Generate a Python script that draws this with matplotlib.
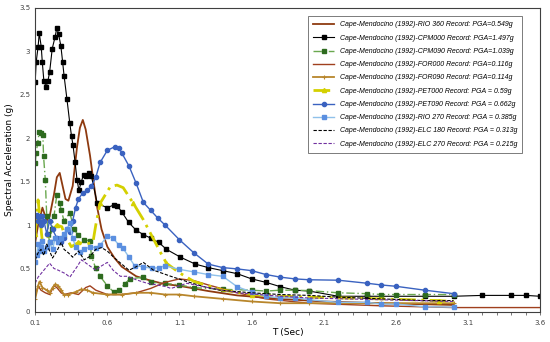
import numpy as np
import matplotlib
matplotlib.use("Agg")
import matplotlib.pyplot as plt
from matplotlib.ticker import MultipleLocator

# RIO 360
t_rio360 = [0.10, 0.12, 0.15, 0.18, 0.20, 0.23, 0.25, 0.27, 0.29, 0.31, 0.33, 0.36, 0.39,
            0.41, 0.43, 0.45, 0.48, 0.50, 0.53, 0.56, 0.60, 0.65, 0.70, 0.80, 0.90, 1.00,
            1.10, 1.30, 1.50, 1.80, 2.10, 2.50, 3.00]
g_rio360 = [0.80, 1.00, 1.20, 1.05, 1.10, 1.35, 1.55, 1.60, 1.45, 1.30, 1.28, 1.45, 1.90,
            2.12, 2.21, 2.10, 1.80, 1.55, 1.20, 0.95, 0.75, 0.62, 0.52, 0.41, 0.36, 0.32,
            0.30, 0.24, 0.19, 0.15, 0.12, 0.10, 0.08]

# CPM000
t_cpm000 = [0.100, 0.107, 0.120, 0.128, 0.142, 0.149, 0.160, 0.176, 0.188, 0.200, 0.218,
            0.237, 0.250, 0.262, 0.278, 0.290, 0.300, 0.320, 0.340, 0.352, 0.362, 0.376,
            0.390, 0.403, 0.420, 0.435, 0.455, 0.473, 0.490, 0.530, 0.598, 0.644, 0.670,
            0.700, 0.748, 0.800, 0.850, 0.900, 0.956, 1.010, 1.107, 1.210, 1.300, 1.400,
            1.500, 1.600, 1.700, 1.800, 1.900, 2.000, 2.200, 2.400, 2.800, 3.000, 3.200,
            3.400, 3.500, 3.600]
g_cpm000 = [2.65, 2.88, 3.05, 3.21, 3.05, 2.88, 2.66, 2.59, 2.66, 2.76, 3.03,
            3.16, 3.27, 3.20, 3.06, 2.88, 2.72, 2.45, 2.17, 2.02, 1.92, 1.73,
            1.52, 1.40, 1.50, 1.58, 1.56, 1.60, 1.56, 1.25, 1.20, 1.23, 1.22,
            1.15, 1.03, 0.94, 0.89, 0.85, 0.80, 0.72, 0.63, 0.55, 0.51, 0.475,
            0.44, 0.38, 0.34, 0.29, 0.25, 0.24, 0.18, 0.18, 0.18, 0.18, 0.19,
            0.19, 0.19, 0.18]

# CPM090
t_cpm090 = [0.100, 0.107, 0.116, 0.128, 0.140, 0.153, 0.158, 0.170, 0.180, 0.190, 0.200,
            0.215, 0.230, 0.250, 0.270, 0.280, 0.300, 0.340, 0.370, 0.400, 0.435, 0.480,
            0.490, 0.520, 0.550, 0.600, 0.644, 0.680, 0.720, 0.755, 0.850, 0.900, 0.998,
            1.100, 1.200, 1.400, 1.600, 1.700, 1.800, 1.900, 2.000, 2.200, 2.400, 2.500,
            2.600, 2.800, 3.000]
g_cpm090 = [1.71, 1.83, 1.94, 2.07, 2.06, 2.04, 1.79, 1.52, 1.10, 0.90, 0.80,
            0.95, 1.10, 1.35, 1.25, 1.17, 1.05, 1.14, 0.95, 0.88, 0.83, 0.82,
            0.64, 0.50, 0.41, 0.30, 0.23, 0.25, 0.32, 0.38, 0.40, 0.34, 0.33,
            0.31, 0.28, 0.26, 0.25, 0.24, 0.25, 0.25, 0.245, 0.22, 0.21, 0.20,
            0.20, 0.20, 0.20]

# FOR000
t_for000 = [0.10, 0.12, 0.14, 0.17, 0.20, 0.23, 0.25, 0.28, 0.30, 0.35, 0.40, 0.45, 0.48,
            0.52, 0.60, 0.70, 0.80, 0.90, 1.00, 1.10, 1.20, 1.30, 1.50, 1.70, 2.00, 2.50,
            3.00, 3.60]
g_for000 = [0.18, 0.30, 0.25, 0.22, 0.20, 0.30, 0.28, 0.22, 0.20, 0.22, 0.20, 0.28, 0.30,
            0.25, 0.20, 0.20, 0.22, 0.27, 0.34, 0.38, 0.36, 0.31, 0.22, 0.15, 0.10, 0.07,
            0.05, 0.05]

# FOR090
t_for090 = [0.10, 0.12, 0.13, 0.15, 0.18, 0.20, 0.22, 0.24, 0.26, 0.28, 0.30, 0.33, 0.38,
            0.42, 0.46, 0.50, 0.60, 0.70, 0.80, 0.90, 1.00, 1.10, 1.20, 1.40, 1.60, 1.80,
            2.00, 2.50, 3.00]
g_for090 = [0.15, 0.30, 0.35, 0.28, 0.25, 0.22, 0.28, 0.32, 0.30, 0.25, 0.20, 0.20, 0.23,
            0.26, 0.25, 0.22, 0.20, 0.20, 0.22, 0.22, 0.20, 0.20, 0.18, 0.15, 0.12, 0.10,
            0.10, 0.10, 0.10]

# PET000
t_pet000 = [0.10, 0.12, 0.15, 0.20, 0.25, 0.285, 0.30, 0.35, 0.40, 0.45, 0.50, 0.52, 0.55,
            0.62, 0.667, 0.71, 0.78, 0.85, 0.91, 0.97, 1.01, 1.10, 1.20, 1.40, 1.60, 1.80,
            2.00, 2.50, 2.90, 3.00]
g_pet000 = [0.90, 1.29, 0.80, 0.90, 1.00, 0.98, 0.90, 0.75, 0.80, 0.78, 0.80, 1.00, 1.25,
            1.44, 1.46, 1.43, 1.25, 1.06, 0.87, 0.68, 0.56, 0.45, 0.35, 0.25, 0.20, 0.18,
            0.17, 0.15, 0.13, 0.12]

# PET090
t_pet090 = [0.10, 0.11, 0.12, 0.13, 0.14, 0.15, 0.16, 0.18, 0.20, 0.22, 0.25, 0.28, 0.30,
            0.32, 0.34, 0.36, 0.38, 0.40, 0.43, 0.46, 0.49, 0.52, 0.55, 0.60, 0.65, 0.68,
            0.70, 0.75, 0.80, 0.85, 0.90, 0.95, 1.00, 1.10, 1.20, 1.30, 1.40, 1.50, 1.60,
            1.70, 1.80, 1.90, 2.00, 2.20, 2.40, 2.50, 2.60, 2.80, 3.00]
g_pet090 = [1.10, 1.12, 1.05, 1.10, 1.00, 1.10, 1.05, 0.90, 1.05, 0.95, 0.85, 0.80, 0.85,
            0.95, 0.92, 1.05, 1.20, 1.30, 1.37, 1.40, 1.45, 1.55, 1.72, 1.86, 1.90, 1.89,
            1.83, 1.68, 1.48, 1.26, 1.17, 1.08, 1.00, 0.83, 0.68, 0.55, 0.51, 0.495, 0.475,
            0.43, 0.40, 0.38, 0.37, 0.365, 0.33, 0.31, 0.295, 0.25, 0.21]

# RIO 270
t_rio270 = [0.10, 0.11, 0.12, 0.13, 0.14, 0.15, 0.16, 0.18, 0.20, 0.22, 0.24, 0.26, 0.28,
            0.30, 0.32, 0.34, 0.36, 0.38, 0.41, 0.44, 0.48, 0.52, 0.55, 0.60, 0.64, 0.68,
            0.71, 0.75, 0.79, 0.85, 0.91, 0.956, 1.00, 1.10, 1.20, 1.30, 1.40, 1.50, 1.60,
            1.70, 1.80, 1.90, 2.00, 2.20, 2.40, 2.50, 2.60, 2.80, 3.00]
g_rio270 = [0.58, 0.65, 0.78, 0.70, 0.75, 0.82, 0.70, 0.75, 0.80, 0.72, 0.85, 0.80, 0.85,
            0.90, 0.95, 1.02, 0.85, 0.75, 0.69, 0.72, 0.75, 0.74, 0.77, 0.87, 0.85, 0.77,
            0.73, 0.63, 0.53, 0.52, 0.50, 0.51, 0.53, 0.49, 0.46, 0.43, 0.41, 0.29, 0.23,
            0.18, 0.16, 0.165, 0.14, 0.11, 0.11, 0.09, 0.09, 0.06, 0.055]

# ELC 180
t_elc180 = [0.10, 0.12, 0.14, 0.16, 0.18, 0.20, 0.22, 0.25, 0.28, 0.30, 0.33, 0.36, 0.40,
            0.44, 0.48, 0.52, 0.56, 0.60, 0.65, 0.70, 0.75, 0.80, 0.85, 0.92, 1.04, 1.15,
            1.27, 1.38, 1.60, 1.80, 2.00, 2.20, 2.50, 2.80, 3.00]
g_elc180 = [0.60, 0.68, 0.72, 0.65, 0.78, 0.70, 0.62, 0.70, 0.80, 0.72, 0.68, 0.63, 0.70,
            0.60, 0.64, 0.72, 0.74, 0.70, 0.62, 0.55, 0.48, 0.52, 0.57, 0.48, 0.41, 0.35,
            0.29, 0.25, 0.22, 0.20, 0.19, 0.17, 0.15, 0.13, 0.13]

# ELC 270
t_elc270 = [0.10, 0.12, 0.16, 0.20, 0.23, 0.26, 0.31, 0.34, 0.39, 0.42, 0.47, 0.52, 0.55,
            0.60, 0.64, 0.69, 0.74, 0.80, 0.875, 0.945, 1.01, 1.04, 1.10, 1.15, 1.30, 1.50,
            1.80, 2.00, 2.50, 3.00]
g_elc270 = [0.33, 0.40, 0.48, 0.56, 0.50, 0.48, 0.44, 0.40, 0.52, 0.60, 0.54, 0.48, 0.52,
            0.57, 0.48, 0.41, 0.41, 0.37, 0.33, 0.31, 0.29, 0.27, 0.30, 0.33, 0.28, 0.22,
            0.18, 0.16, 0.14, 0.12]

labels = [
    "Cape-Mendocino (1992)-RIO 360 Record: PGA=0.549g",
    "Cape-Mendocino (1992)-CPM000 Record: PGA=1.497g",
    "Cape-Mendocino (1992)-CPM090 Record: PGA=1.039g",
    "Cape-Mendocino (1992)-FOR000 Record: PGA=0.116g",
    "Cape-Mendocino (1992)-FOR090 Record: PGA=0.114g",
    "Cape-Mendocino (1992)-PET000 Record: PGA = 0.59g",
    "Cape-Mendocino (1992)-PET090 Record: PGA = 0.662g",
    "Cape-Mendocino (1992)-RIO 270 Record: PGA = 0.385g",
    "Cape-Mendocino (1992)-ELC 180 Record: PGA = 0.313g",
    "Cape-Mendocino (1992)-ELC 270 Record: PGA = 0.215g",
]

fig = plt.figure(figsize=(5.5, 3.42), dpi=100)
ax = fig.add_axes([0.064, 0.088, 0.918, 0.889])

ax.plot(t_rio360, g_rio360, color="#8e3a10", lw=1.3, label=labels[0])
ax.plot(t_cpm000, g_cpm000, color="black", lw=0.8, marker="s", ms=2.6, label=labels[1])
ax.plot(t_cpm090, g_cpm090, color="#6aa84f", lw=1.0, ls=(0, (6, 2, 1, 2)), marker="s",
        ms=2.6, mfc="#2e6b1f", mec="#2e6b1f", label=labels[2])
ax.plot(t_for000, g_for000, color="#a0401e", lw=1.0, label=labels[3])
ax.plot(t_for090, g_for090, color="#b8862b", lw=1.3, marker="+", ms=3, mew=0.8,
        label=labels[4])
ax.plot(t_pet000, g_pet000, color="#d4d000", lw=2.0, ls=(0, (6, 2, 1, 2)), marker="^",
        ms=3, markevery=4, label=labels[5])
ax.plot(t_pet090, g_pet090, color="#3a62c0", lw=1.0, marker="o", ms=3, label=labels[6])
ax.plot(t_rio270, g_rio270, color="#8fc1ea", lw=1.0, marker="s", ms=3,
        mfc="#5b8fe0", mec="#5b8fe0", label=labels[7])
ax.plot(t_elc180, g_elc180, color="black", lw=0.8, ls=(0, (3, 1.5)), label=labels[8])
ax.plot(t_elc270, g_elc270, color="#7030a0", lw=0.8, ls=(0, (3, 1.5)), label=labels[9])

ax.set_xlim(0.1, 3.6)
ax.set_ylim(0, 3.5)
ax.xaxis.set_minor_locator(MultipleLocator(0.1))
ax.set_xticks(np.arange(0.1, 3.65, 0.5))
ax.set_xticklabels(["0.1", "0.6", "1.1", "1.6", "2.1", "2.6", "3.1", "3.6"])
ax.set_yticks(np.arange(0, 3.55, 0.5))
ax.set_yticklabels(["0", "0.5", "1", "1.5", "2", "2.5", "3", "3.5"])
ax.tick_params(axis="both", labelsize=5, colors="#404040", length=2, width=0.5)
ax.tick_params(axis="x", which="minor", length=2, width=0.5, color="#404040")
ax.tick_params(axis="y", length=0)
for s in ax.spines.values():
    s.set_color("#404040")
    s.set_linewidth(0.8)

ax.set_xlabel("T (Sec)", fontsize=6.5, labelpad=2)
ax.set_ylabel("Spectral Acceleration (g)", fontsize=6.5, labelpad=4)

leg = ax.legend(loc="upper right", bbox_to_anchor=(0.972, 0.985),
                prop={"family": "Liberation Sans", "style": "italic", "size": 5},
                frameon=True, fancybox=False, edgecolor="#404040",
                handlelength=3.0, labelspacing=0.9, borderpad=0.8)
leg.get_frame().set_linewidth(0.6)

fig.savefig("out.png", dpi=100)
